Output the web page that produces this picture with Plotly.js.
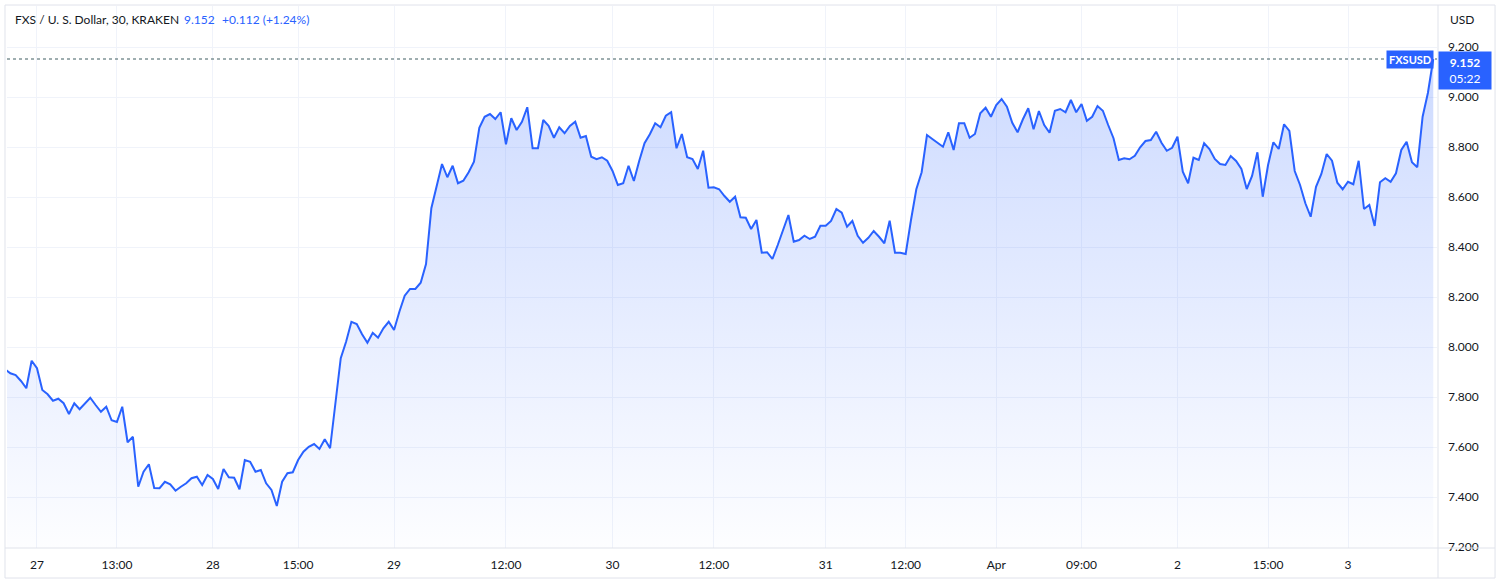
<!DOCTYPE html>
<html>
<head>
<meta charset="utf-8">
<script src="https://cdn.plot.ly/plotly-3.0.1.min.js"></script>
<style>
  html, body { margin: 0; padding: 0; background: #ffffff; }
  #chart { width: 1500px; height: 586px; }
</style>
</head>
<body>
<div id="chart"></div>
<script>
// FXS / USD, 30 min bars (Kraken)
var prices27 = [
    7.911, 7.895, 7.888, 7.864, 7.835, 7.945, 7.915, 7.828, 7.811, 7.785,
    7.793, 7.775, 7.732, 7.775, 7.751, 7.775, 7.797, 7.768, 7.741, 7.761,
    7.707, 7.700, 7.761, 7.619, 7.641, 7.441, 7.501, 7.531, 7.436, 7.435,
    7.461, 7.451, 7.425, 7.441, 7.455, 7.475, 7.481, 7.448, 7.488, 7.472,
    7.432, 7.512, 7.479, 7.477, 7.431, 7.548, 7.541
];
var prices28 = [
    7.501, 7.508, 7.455, 7.428, 7.364, 7.461, 7.495, 7.499, 7.548, 7.581,
    7.601, 7.612, 7.592, 7.631, 7.595, 7.775, 7.955, 8.021, 8.101, 8.092,
    8.051, 8.017, 8.057, 8.037, 8.075, 8.101, 8.068, 8.141, 8.205, 8.232,
    8.232, 8.257, 8.332, 8.555, 8.648, 8.732, 8.679, 8.725, 8.655, 8.665,
    8.699, 8.741
];
var prices29 = [
    8.877, 8.921, 8.932, 8.912, 8.939, 8.811, 8.915, 8.868, 8.901, 8.959,
    8.795, 8.795, 8.908, 8.885, 8.837, 8.879, 8.855, 8.884, 8.901, 8.837,
    8.844, 8.761, 8.751, 8.759, 8.745, 8.704, 8.648, 8.655, 8.725, 8.664,
    8.744, 8.815, 8.851, 8.895, 8.879, 8.925, 8.939, 8.795, 8.852, 8.759,
    8.752, 8.712, 8.785, 8.637, 8.639, 8.631
];
var prices30 = [
    8.604, 8.581, 8.601, 8.519, 8.517, 8.472, 8.508, 8.377, 8.379, 8.352,
    8.408, 8.468, 8.528, 8.421, 8.428, 8.445, 8.432, 8.441, 8.485, 8.485,
    8.504, 8.552, 8.537, 8.481, 8.504, 8.445, 8.417, 8.437, 8.464, 8.441,
    8.415, 8.505, 8.377, 8.377, 8.372, 8.508, 8.631, 8.699, 8.848, 8.832,
    8.815, 8.801, 8.859, 8.788, 8.895
];
var prices31 = [
    8.895, 8.837, 8.852, 8.935, 8.957, 8.921, 8.968, 8.992, 8.961, 8.897,
    8.859, 8.911, 8.955, 8.871, 8.944, 8.888, 8.857, 8.945, 8.952, 8.939,
    8.988, 8.939, 8.972, 8.905, 8.921, 8.964, 8.945, 8.888, 8.835, 8.748,
    8.755, 8.751, 8.765, 8.799, 8.824, 8.828, 8.861, 8.817, 8.785, 8.797,
    8.841, 8.701, 8.655, 8.757
];
var prices02 = [
    8.748, 8.815, 8.792, 8.752, 8.732, 8.728, 8.764, 8.744, 8.712, 8.632,
    8.684, 8.779, 8.601, 8.728, 8.819, 8.792, 8.891, 8.864, 8.704, 8.648,
    8.575, 8.521, 8.641, 8.692, 8.772, 8.745, 8.657, 8.631, 8.661, 8.651,
    8.745, 8.552, 8.568, 8.484, 8.659, 8.675, 8.661, 8.695, 8.788, 8.821,
    8.739, 8.719, 8.921, 9.017, 9.152
];

// time axis labels and the bar they sit on
var tickText = ["27", "13:00", "28", "15:00", "29", "12:00", "30", "12:00",
                "31", "12:00", "Apr", "09:00", "2", "15:00", "3"];
var tickBar = [6, 21, 39, 55, 73, 94, 114, 133, 154, 169, 186, 202, 220, 237, 252];

var priceTicks = [7.2, 7.4, 7.6, 7.8, 8.0, 8.2, 8.4, 8.6, 8.8, 9.0, 9.2];

var lastPrice = 9.152;
var change = "+0.112 (+1.24%)";
var countdown = "05:22";

var prices = prices27.concat(prices28, prices29, prices30, prices31, prices02);
var bars = prices.map(function (p, i) { return i; });

var blue = "#2962FF";
var font = "Lato, 'Open Sans', sans-serif";

var trace = {
    type: "scatter",
    mode: "lines",
    x: bars,
    y: prices,
    line: { color: blue, width: 2 },
    fill: "tozeroy",
    fillgradient: {
        type: "vertical",
        start: 7.196,
        stop: 9.2,
        colorscale: [[0, "rgba(41,98,255,0.01)"], [1, "rgba(41,98,255,0.24)"]]
    },
    hoverinfo: "skip"
};

var layout = {
    width: 1500,
    height: 586,
    margin: { l: 7, r: 63, t: 6, b: 38 },
    paper_bgcolor: "#ffffff",
    plot_bgcolor: "#ffffff",
    showlegend: false,
    font: { family: font, size: 12, color: "#131722" },
    xaxis: {
        range: [0.375, 268.7],
        tickmode: "array",
        tickvals: tickBar,
        ticktext: tickText,
        showgrid: true,
        gridcolor: "#f0f3fa",
        zeroline: false,
        showline: false,
        ticks: "",
        ticklabelstandoff: 8,
        tickfont: { family: font, size: 12, color: "#131722" }
    },
    yaxis: {
        side: "right",
        range: [7.196, 9.364],
        tickmode: "array",
        tickvals: priceTicks,
        tickformat: ".3f",
        showgrid: true,
        gridcolor: "#f0f3fa",
        zeroline: false,
        showline: false,
        ticks: "",
        ticklabelstandoff: 10,
        tickfont: { family: font, size: 12, color: "#131722" }
    },
    shapes: [
        // outer frame
        { type: "rect", xref: "paper", yref: "paper", x0: -0.0014, x1: 1.0406, y0: -0.0554, y1: 1.0018,
          line: { color: "#e0e3eb", width: 1 }, layer: "above" },
        // price scale border
        { type: "line", xref: "paper", yref: "paper", x0: 1.0007, x1: 1.0007, y0: -0.0554, y1: 1.0018,
          line: { color: "#e0e3eb", width: 1 }, layer: "above" },
        // time scale border
        { type: "line", xref: "paper", yref: "paper", x0: -0.0014, x1: 1.0406, y0: 0, y1: 0,
          line: { color: "#e0e3eb", width: 1 }, layer: "above" },
        // last price line
        { type: "line", xref: "paper", yref: "y", x0: 0, x1: 1, y0: lastPrice, y1: lastPrice,
          line: { color: "#3f5c60", width: 1, dash: "dot" }, layer: "above" }
    ],
    annotations: [
        { xref: "paper", yref: "paper", x: 0.0042, y: 0.976, xanchor: "left", yanchor: "middle",
          text: "FXS / U. S. Dollar, 30, KRAKEN", showarrow: false,
          font: { family: font, size: 12, color: "#131722" } },
        { xref: "paper", yref: "paper", x: 0.1224, y: 0.976, xanchor: "left", yanchor: "middle",
          text: lastPrice.toFixed(3), showarrow: false,
          font: { family: font, size: 12, color: blue } },
        { xref: "paper", yref: "paper", x: 0.1490, y: 0.976, xanchor: "left", yanchor: "middle",
          text: change, showarrow: false,
          font: { family: font, size: 12, color: blue } },
        { xref: "paper", yref: "paper", x: 1.0077, y: 0.976, xanchor: "left", yanchor: "middle",
          text: "USD", showarrow: false,
          font: { family: font, size: 12, color: "#131722" } },
        { xref: "paper", yref: "y", x: 0.9979, y: lastPrice, xanchor: "right", yanchor: "middle",
          text: "<b>FXSUSD</b>", showarrow: false, bgcolor: blue, borderpad: 2,
          font: { family: font, size: 11, color: "#ffffff" } },
        { xref: "paper", yref: "y", x: 1.0007, y: 9.184, xanchor: "left", yanchor: "top",
          text: "<b>" + lastPrice.toFixed(3) + "</b><br>" + countdown, showarrow: false,
          bgcolor: blue, borderpad: 3, width: 46, align: "center",
          font: { family: font, size: 12, color: "#ffffff" } }
    ]
};

Plotly.newPlot("chart", [trace], layout, { displayModeBar: false, staticPlot: true });
</script>
</body>
</html>
